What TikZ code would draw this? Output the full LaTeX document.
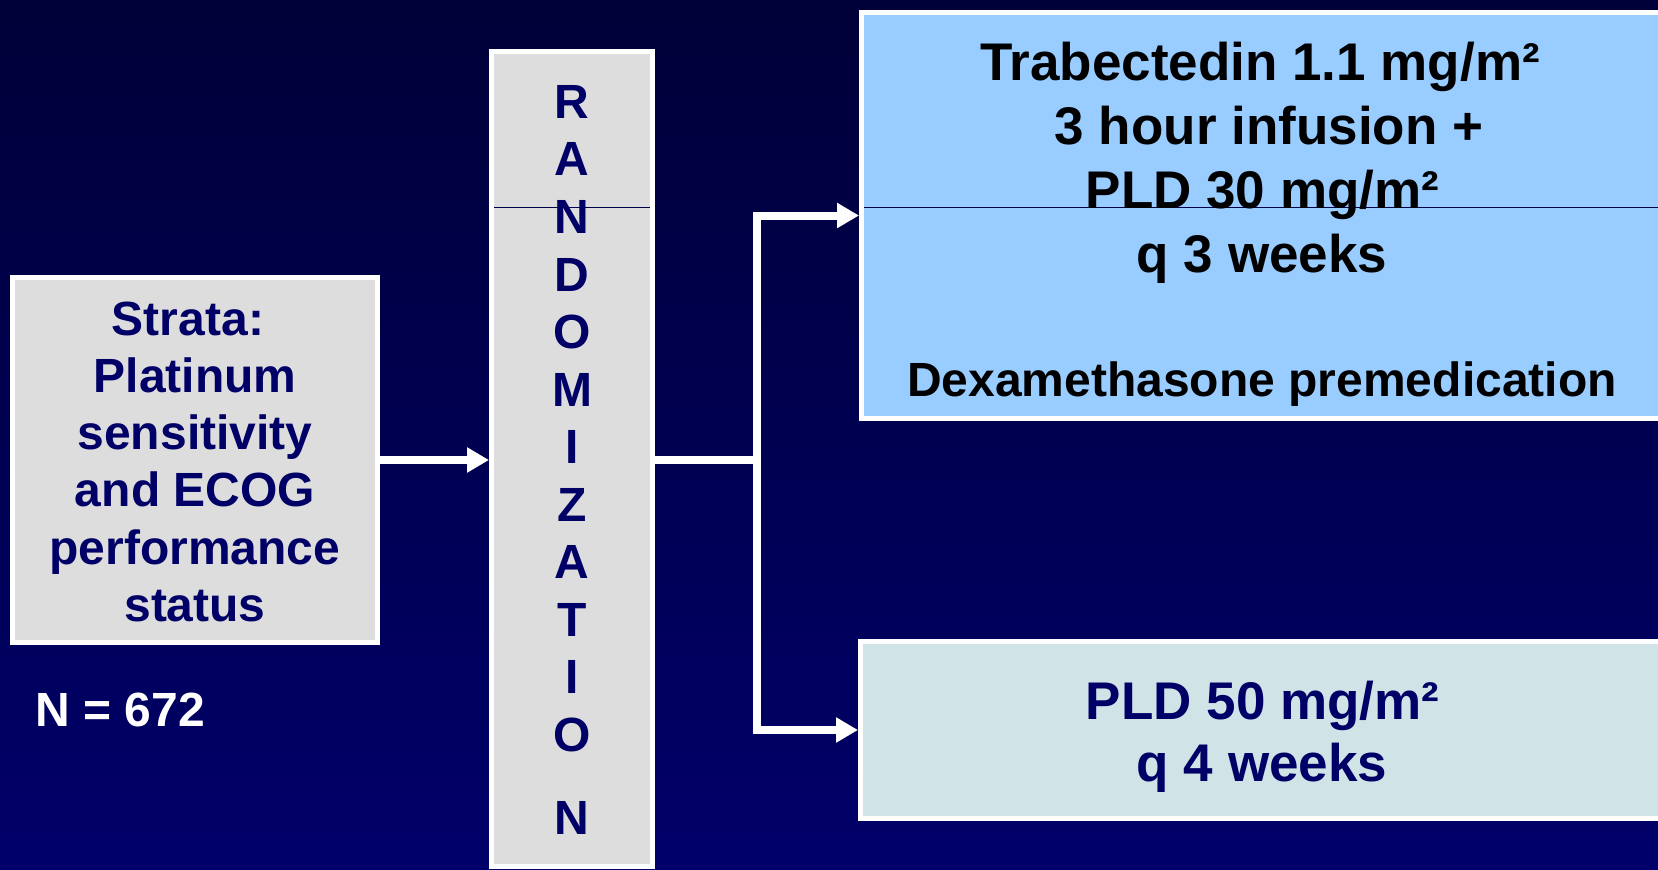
\documentclass[tikz,border=0pt]{standalone}
\usepackage{fontspec}
\setmainfont{Liberation Sans}
\usetikzlibrary{arrows.meta}
\definecolor{bgtop}{HTML}{000038}
\definecolor{bgbot}{HTML}{00006A}
\definecolor{navy}{HTML}{000066}
\definecolor{greybox}{HTML}{DDDDDD}
\definecolor{bluebox}{HTML}{99CCFF}
\definecolor{palebox}{HTML}{D0E3E7}
\definecolor{rulecol}{HTML}{00004A}
\begin{document}
\begin{tikzpicture}[x=0.5pt,y=-0.5pt,
  box/.style={rectangle, draw=white, line width=2.5pt, inner sep=0pt},
  bigtxt/.style={inner sep=0pt, anchor=base, font=\bfseries\fontsize{26.5pt}{32pt}\selectfont},
  midtxt/.style={inner sep=0pt, anchor=base, font=\bfseries\fontsize{24pt}{29pt}\selectfont},
  link/.style={draw=white, line width=4pt},
  arr/.style={link, -{Triangle[length=11pt,width=12pt]}},
  thinrule/.style={draw=rulecol, line width=0.5pt}]
\useasboundingbox (0,0) rectangle (1658,869);
\clip (0,0) rectangle (1658,869);
\shade[top color=bgtop, bottom color=bgbot] (0,0) rectangle (1658,869);

% boxes
\node[box, fill=greybox, minimum width=182.5pt, minimum height=182.5pt] (strata) at (195,460) {};
\node[box, fill=greybox, minimum width=80.5pt, minimum height=407.5pt] (rand) at (572,459) {};
\node[box, fill=bluebox, minimum width=400.5pt, minimum height=203pt] (arm1) at (1262,215.5) {};
\node[box, fill=palebox, minimum width=401pt, minimum height=88.5pt] (arm2) at (1261.5,730) {};

% thin rules across the fills
\draw[thinrule] (494,207) -- (650,207);
\draw[thinrule] (864,207) -- (1658,207);

% strata text
\node[midtxt, text=navy] (s1) at (188,335) {Strata:};
\node[midtxt, text=navy] (s2) at (195,392.3) {Platinum};
\node[midtxt, text=navy] (s3) at (195,449.6) {sensitivity};
\node[midtxt, text=navy] (s4) at (195,506.9) {and ECOG};
\node[midtxt, text=navy] (s5) at (195,564.2) {performance};
\node[midtxt, text=navy] (s6) at (195,621.5) {status};

% randomization letters
\foreach \l/\yy [count=\i] in {R/118, A/175.7, N/233.3, D/291, O/348.5, M/406, I/463.5, Z/521, A/578.5, T/636, I/693.5, O/751.2, N/834.3}
  \node[midtxt, text=navy] (r\i) at (572,\yy) {\l};

% arm 1 text
\node[bigtxt, text=black] (a1) at (1260,80) {Trabectedin 1.1 mg/m²};
\node[bigtxt, text=black] (a2) at (1269,144) {3 hour infusion +};
\node[bigtxt, text=black] (a3) at (1262.5,208) {PLD 30 mg/m²};
\node[bigtxt, text=black] (a4) at (1262,272) {q 3 weeks};
\node[midtxt, text=black] (a5) at (1262,396) {Dexamethasone premedication};

% arm 2 text
\node[bigtxt, text=navy] (b1) at (1262.6,719) {PLD 50 mg/m²};
\node[bigtxt, text=navy] (b2) at (1262,781.7) {q 4 weeks};

% N
\node[midtxt, text=white, anchor=base west] (n) at (35,726) {N = 672};

% connectors
\coordinate (j) at (757,460);
\draw[arr] (strata.east) -- (rand.west |- strata.east);
\draw[link] (rand.east |- strata.east) -- (j);
\draw[arr] (j) |- (arm1.west);
\draw[arr] (j) |- (arm2.west);
\end{tikzpicture}
\end{document}
